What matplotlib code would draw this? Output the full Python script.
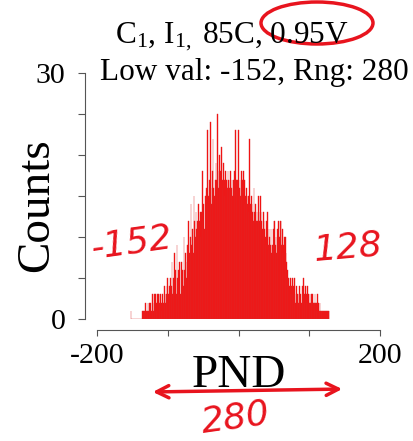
import numpy as np
import matplotlib
matplotlib.use("Agg")
import matplotlib.pyplot as plt
from matplotlib.patches import Ellipse, FancyArrowPatch

# ---- data ----
pnd_low = -152
pnd_range = 280
counts = [1] + [0]*15 + [1, 0, 1, 1] + [
    1, 2, 1, 1, 2, 1, 2, 1, 2, 1,
    3, 2, 1, 3, 2, 3, 2, 1, 3, 3,
    2, 3, 3, 2, 1, 3, 2, 4, 3, 2,
    3, 4, 5, 3, 4, 2, 5, 4, 7, 3,
    5, 4, 8, 6, 3, 9, 5, 6, 4, 7,
    3, 7, 5, 6, 4, 10, 6, 8, 7, 5,
    9, 12, 7, 8, 10, 14, 9, 11, 8, 15,
    12, 10, 13, 11, 12, 14, 11, 12, 13, 10,
    13, 18, 12, 14, 11, 15, 13, 16, 23, 14,
    15, 17, 24, 16, 14, 18, 22, 16, 15, 17,
    19, 17, 25, 18, 16, 20, 17, 18, 21, 17,
    16, 19, 17, 15, 18, 17, 16, 18, 17, 16,
    17, 18, 16, 17, 15, 17, 18, 16, 23, 17,
    16, 17, 23, 16, 17, 15, 18, 16, 17, 18,
    17, 14, 15, 16, 15, 14, 15, 13, 22, 14,
    15, 14, 13, 12, 16, 13, 14, 12, 13, 12,
    15, 13, 12, 15, 13, 12, 11, 13, 12, 11,
    10, 9, 12, 13, 9, 11, 10, 9, 11, 8,
    9, 11, 12, 12, 9, 10, 8, 11, 9, 12,
    10, 12, 12, 9, 11, 8, 9, 10, 10, 8,
    7, 6, 5, 5, 4, 5, 3, 4, 5, 3,
    4, 5, 3, 2, 4, 3, 3, 2, 4, 3,
    3, 2, 4, 3, 5, 3, 2, 4, 3, 2,
    4, 3, 2, 3, 2, 3, 2, 3, 2, 2,
    3, 2, 2, 1, 3, 2, 1, 2, 1, 1,
    1, 1, 1, 0, 1, 1, 1, 0, 1, 1,
] + [1]
pnd_values = pnd_low + np.arange(len(counts))
x_ticks = [-200, -100, 0, 100, 200]
x_ticklabels = ["-200", "", "", "", "200"]
y_ticks = [0, 5, 10, 15, 20, 25, 30]
y_ticklabels = ["0", "", "", "", "", "", "30"]
title1 = r"C$_1$, I$_{1,}$ 85C, 0.95V"
title2 = f"Low val: {pnd_low}, Rng: {pnd_range}"

plt.rcParams['font.family'] = ['Liberation Serif', 'DejaVu Serif']
plt.rcParams['mathtext.fontset'] = 'custom'
plt.rcParams['mathtext.rm'] = 'Liberation Serif'
plt.rcParams['mathtext.it'] = 'Liberation Serif:italic'

W, H = 414, 441
fig = plt.figure(figsize=(W/100, H/100), dpi=100)
ax = fig.add_axes([97/W, 1-319/H, 283/W, 246/H])

ax.bar(pnd_values, counts, width=1.0, color='#ff0000', edgecolor='#dd3030',
       linewidth=0.3)
ax.set_xlim(-200, 200)
ax.set_ylim(0, 30)

for s in ['top', 'right']:
    ax.spines[s].set_visible(False)
ax.spines['left'].set_position(('outward', 8.6))
ax.spines['bottom'].set_position(('outward', 7.9))
ax.spines['left'].set_bounds(0, 30)
ax.spines['bottom'].set_bounds(-200, 200)
for s in ['left', 'bottom']:
    ax.spines[s].set_color('#555555')
    ax.spines[s].set_linewidth(0.8)
ax.set_xticks(x_ticks)
ax.set_xticklabels(x_ticklabels)
ax.set_yticks(y_ticks)
ax.set_yticklabels(y_ticklabels)
ax.tick_params(axis='both', colors='#555555', labelcolor='black', labelsize=21.5,
               width=0.8)
ax.tick_params(axis='x', length=4.3, pad=5)
ax.tick_params(axis='y', length=5, pad=9)

fig.text(232/W, 1-43/H, title1, ha='center', va='baseline', fontsize=22.5)
fig.text(254/W, 1-80/H, title2, ha='center', va='baseline', fontsize=22.5)
fig.text(239/W, 1-387/H, "PND", ha='center', va='baseline', fontsize=34)
fig.text(37/W, 1-205/H, "Counts", ha='center', va='center', fontsize=34,
         rotation=90)

# handwritten red annotations
red = '#e8141e'
fig.add_artist(Ellipse((317/W, 1-23/H), 112/W, 42/H, transform=fig.transFigure,
                       fill=False, edgecolor=red, linewidth=2.5))
fig.text(132/W, 1-243/H, "-152", ha='center', va='center', fontsize=26,
         color=red, style='italic', family='DejaVu Sans', rotation=8)
fig.text(348/W, 1-248/H, "128", ha='center', va='center', fontsize=26,
         color=red, style='italic', family='DejaVu Sans', rotation=5)
fig.add_artist(FancyArrowPatch((150/W, 1-392/H), (345/W, 1-389/H),
                               transform=fig.transFigure, arrowstyle='<->',
                               mutation_scale=22, color=red, linewidth=2.5))
fig.text(236/W, 1-418/H, "280", ha='center', va='center', fontsize=26,
         color=red, style='italic', family='DejaVu Sans', rotation=8)

fig.savefig("out.png", dpi=100)
